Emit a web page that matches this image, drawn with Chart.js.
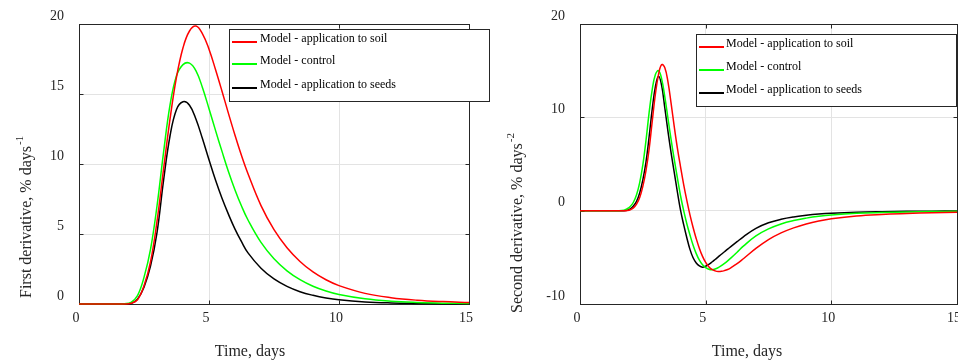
<!DOCTYPE html>
<html><head><meta charset="utf-8">
<script src="https://cdn.jsdelivr.net/npm/chart.js@4.4.0/dist/chart.umd.min.js"></script>
<style>
html,body{margin:0;padding:0;background:#fff;overflow:hidden;width:958px;height:363px;}
#c1{position:absolute;left:0;top:0;}
#c2{position:absolute;left:490px;top:0;}
</style></head><body>
<canvas id="c1" width="490" height="363"></canvas>
<canvas id="c2" width="480" height="363"></canvas>
<script>
// ---------- data ----------
const seriesLabels = ['Model - application to soil', 'Model - control', 'Model - application to seeds'];
const xTicks = [0, 5, 10, 15];
const yTicksFirst = [0, 5, 10, 15, 20];
const yTicksSecond = [-10, 0, 10, 20];
const xTitleText = 'Time, days';
const yTitleFirst = 'First derivative, % days';
const ySupFirst = '-1';
const yTitleSecond = 'Second derivative, % days';
const ySupSecond = '-2';

const tFirst = [0, 0.5, 1, 1.5, 1.75, 2, 2.25, 2.5, 2.75, 3, 3.25, 3.5, 3.75, 4, 4.25, 4.5, 4.75, 5, 5.25, 5.5, 5.75, 6, 6.25, 6.5, 7, 7.5, 8, 8.5, 9, 9.5, 10, 11, 12, 13, 14, 15];
const soilFirst = [0, 0, 0, 0, 0, 0.05, 0.3, 1.3, 3.0, 5.9, 9.6, 13.2, 16.2, 18.3, 19.5, 19.85, 19.3, 18.2, 16.75, 15.2, 13.6, 12.05, 10.6, 9.3, 7.03, 5.31, 4.02, 3.04, 2.29, 1.73, 1.31, 0.76, 0.45, 0.27, 0.17, 0.11];
const controlFirst = [0, 0, 0, 0, 0.02, 0.12, 0.6, 1.9, 3.9, 7.0, 10.8, 14.2, 16.3, 17.1, 17.2, 16.65, 15.45, 13.95, 12.4, 10.9, 9.45, 8.15, 7.0, 6.0, 4.4, 3.23, 2.37, 1.74, 1.27, 0.93, 0.68, 0.37, 0.2, 0.11, 0.06, 0.035];
const seedsFirst = [0, 0, 0, 0, 0, 0.03, 0.35, 1.2, 2.7, 5.1, 8.8, 12.0, 13.9, 14.45, 14.2, 13.2, 11.8, 10.3, 8.85, 7.55, 6.4, 5.35, 4.45, 3.65, 2.56, 1.79, 1.26, 0.88, 0.62, 0.43, 0.3, 0.15, 0.075, 0.04, 0.02, 0.01];

const tSecond = [0, 0.5, 1, 1.5, 1.75, 1.875, 2, 2.125, 2.25, 2.375, 2.5, 2.625, 2.75, 2.875, 3, 3.125, 3.25, 3.375, 3.5, 3.625, 3.75, 3.875, 4, 4.125, 4.25, 4.375, 4.5, 4.625, 4.75, 4.875, 5, 5.125, 5.25, 5.375, 5.5, 5.625, 5.75, 5.875, 6, 6.25, 6.5, 7, 7.5, 8, 8.5, 9, 9.5, 10, 11, 12, 13, 14, 15];
const soilSecond = [0, 0, 0, 0, 0, 0.02, 0.1, 0.3, 0.7, 1.4, 2.6, 4.3, 6.6, 9.6, 12.5, 14.6, 15.65, 15.3, 13.8, 11.5, 9.0, 6.7, 4.7, 2.8, 1.1, -0.45, -1.8, -3.0, -4.05, -4.9, -5.55, -6.0, -6.3, -6.45, -6.52, -6.5, -6.42, -6.3, -6.12, -5.68, -5.15, -4.05, -3.1, -2.38, -1.84, -1.42, -1.1, -0.86, -0.56, -0.4, -0.3, -0.22, -0.16];
const controlSecond = [0, 0, 0, 0, 0.05, 0.2, 0.45, 0.9, 1.7, 3.0, 4.9, 7.5, 10.5, 13.0, 14.6, 15.0, 14.1, 12.2, 9.9, 7.6, 5.5, 3.5, 1.6, 0.0, -1.4, -2.6, -3.7, -4.6, -5.3, -5.8, -6.1, -6.27, -6.32, -6.25, -6.1, -5.9, -5.65, -5.38, -5.08, -4.45, -3.8, -2.7, -1.95, -1.42, -1.06, -0.8, -0.6, -0.46, -0.29, -0.2, -0.14, -0.1, -0.07];
const seedsSecond = [0, 0, 0, 0, 0, 0.05, 0.2, 0.5, 1.0, 1.9, 3.3, 5.2, 7.9, 10.9, 13.3, 14.4, 13.4, 11.0, 8.5, 6.2, 4.1, 2.0, 0.05, -1.5, -2.9, -4.15, -5.05, -5.6, -5.92, -6.05, -5.95, -5.75, -5.5, -5.23, -4.95, -4.67, -4.4, -4.12, -3.85, -3.32, -2.8, -1.9, -1.3, -0.92, -0.67, -0.5, -0.37, -0.28, -0.17, -0.11, -0.07, -0.05, -0.03];

// ---------- styles ----------
const FONT = '"Liberation Serif", "Times New Roman", Times, serif';
const colors = ['#ff0000', '#00ff00', '#000000'];
const AXIS = '#262626';

function pts(t, v) { return t.map((x, i) => ({ x: x, y: v[i] })); }

const decor = {
  id: 'decor',
  beforeDatasetsDraw(chart, args, o) {
    const { ctx, chartArea: a, scales } = chart;
    ctx.save();
    ctx.strokeStyle = AXIS; ctx.lineWidth = 1;
    const l = Math.round(a.left) + 0.5, r = Math.round(a.right) + 0.5;
    const t = Math.round(a.top) + 0.5, b = Math.round(a.bottom) + 0.5;
    ctx.strokeRect(l, t, r - l, b - t);
    const L = 4;
    ctx.beginPath();
    scales.x.ticks.forEach(tk => {
      const px = Math.round(scales.x.getPixelForValue(tk.value)) + 0.5;
      ctx.moveTo(px, b); ctx.lineTo(px, b - L);
      ctx.moveTo(px, t); ctx.lineTo(px, t + L);
    });
    scales.y.ticks.forEach(tk => {
      const py = Math.round(scales.y.getPixelForValue(tk.value)) + 0.5;
      ctx.moveTo(l, py); ctx.lineTo(l + L, py);
      ctx.moveTo(r, py); ctx.lineTo(r - L, py);
    });
    ctx.stroke();
    ctx.restore();
  },
  afterDatasetsDraw(chart, args, o) {
    const { ctx } = chart;
    const lg = o.legend;
    ctx.save();
    ctx.fillStyle = '#fff';
    ctx.fillRect(lg.x, lg.y, lg.w, lg.h);
    ctx.strokeStyle = AXIS; ctx.lineWidth = 1;
    ctx.strokeRect(Math.round(lg.x) + 0.5, Math.round(lg.y) + 0.5, Math.round(lg.w), Math.round(lg.h));
    ctx.font = '12px ' + FONT;
    ctx.textBaseline = 'alphabetic';
    ctx.textAlign = 'left';
    chart.data.datasets.forEach((ds, i) => {
      const yy = lg.y + lg.rows[i];
      ctx.strokeStyle = ds.borderColor; ctx.lineWidth = 2;
      ctx.beginPath(); ctx.moveTo(lg.x + lg.l0, yy); ctx.lineTo(lg.x + lg.l1, yy); ctx.stroke();
      ctx.fillStyle = '#000';
      ctx.fillText(ds.label, lg.x + lg.tx, yy);
    });
    ctx.restore();
  },
  afterDraw(chart, args, o) {
    const { ctx } = chart;
    ctx.save();
    ctx.fillStyle = AXIS;
    ctx.font = '16px ' + FONT;
    ctx.textAlign = 'center'; ctx.textBaseline = 'alphabetic';
    ctx.fillText(o.xTitle, o.xt.x, o.xt.y);
    ctx.translate(o.yt.x, o.yt.y);
    ctx.rotate(-Math.PI / 2);
    ctx.textAlign = 'left';
    ctx.fillText(o.yTitle, 0, 0);
    const w = ctx.measureText(o.yTitle).width;
    ctx.font = '11px ' + FONT;
    ctx.fillText(o.ySup, w + 1, -8);
    ctx.restore();
  }
};

function makeChart(id, t, series, yTicks, ymin, ymax, axisW, padR, deco) {
  return new Chart(document.getElementById(id), {
    type: 'line',
    data: {
      datasets: series.map((s, i) => ({
        label: seriesLabels[i],
        data: pts(t, s),
        borderColor: colors[i],
        borderWidth: 1.5,
        pointRadius: 0,
        fill: false,
        tension: 0.4,
        clip: false
      }))
    },
    options: {
      responsive: false,
      animation: false,
      devicePixelRatio: 1,
      layout: { padding: { left: 0, right: padR, top: 24, bottom: 0 } },
      plugins: { legend: { display: false }, tooltip: { enabled: false }, decor: deco },
      scales: {
        x: {
          type: 'linear', min: 0, max: 15,
          afterBuildTicks: s => { s.ticks = xTicks.map(v => ({ value: v })); },
          afterFit: s => { s.height = 59; },
          grid: { color: '#e3e3e3', lineWidth: 1, drawTicks: false },
          border: { display: false },
          ticks: { font: { family: FONT, size: 14 }, color: AXIS, padding: 6, labelOffset: -3, maxRotation: 0, autoSkip: false }
        },
        y: {
          type: 'linear', min: ymin, max: ymax,
          afterBuildTicks: s => { s.ticks = yTicks.map(v => ({ value: v })); },
          afterFit: s => { s.width = axisW; },
          grid: { color: '#e3e3e3', lineWidth: 1, drawTicks: false },
          border: { display: false },
          ticks: { font: { family: FONT, size: 14 }, color: AXIS, padding: 15, labelOffset: -8 }
        }
      }
    },
    plugins: [decor]
  });
}

makeChart('c1', tFirst, [soilFirst, controlFirst, seedsFirst], yTicksFirst, 0, 20, 79, 21, {
  legend: { x: 229, y: 29, w: 260, h: 72, rows: [13, 35, 59], l0: 3, l1: 28, tx: 31 },
  xTitle: xTitleText, xt: { x: 250, y: 356 },
  yTitle: yTitleFirst, ySup: ySupFirst, yt: { x: 31, y: 298 }
});
makeChart('c2', tSecond, [soilSecond, controlSecond, seedsSecond], yTicksSecond, -10, 20, 90, 10, {
  legend: { x: 206, y: 34, w: 260, h: 72, rows: [13, 36, 59], l0: 3, l1: 28, tx: 30 },
  xTitle: xTitleText, xt: { x: 257, y: 356 },
  yTitle: yTitleSecond, ySup: ySupSecond, yt: { x: 32, y: 313 }
});
</script>
</body></html>
